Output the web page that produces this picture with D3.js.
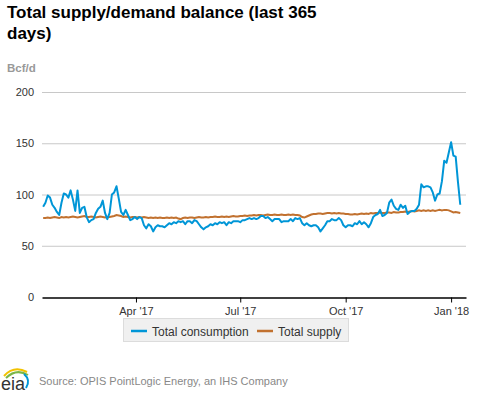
<!DOCTYPE html>
<html>
<head>
<meta charset="utf-8">
<script src="https://cdnjs.cloudflare.com/ajax/libs/d3/7.8.5/d3.min.js"></script>
<style>
  body { margin: 0; background: #fff; }
  text { font-family: "Liberation Sans", Arial, sans-serif; }
</style>
</head>
<body>
<script>
// data: one reading every 2 days, starting Jan 10 2017
var startDate = new Date(2017, 0, 10);
var stepDays = 2;

var consumption = [
  88, 92, 99, 97, 90, 87, 83, 80, 92, 101,
  100, 97, 104, 95, 84, 104, 82, 87, 88, 78,
  73, 75, 76, 82, 86, 88, 94, 82, 76, 82,
  100, 102, 108, 96, 83, 80, 85, 80, 75, 76,
  78, 76, 78, 77, 70, 67, 71, 69, 64, 68,
  70, 69, 69, 68, 70, 72, 71, 73, 72, 74,
  73, 74, 71, 74, 74, 72, 75, 74, 71, 68,
  66, 68, 69, 71, 70, 72, 71, 73, 72, 73,
  70, 73, 72, 74, 74, 74, 73, 75, 75, 76,
  77, 76, 77, 76, 77, 79, 79, 77, 78, 76,
  74, 76, 76, 76, 73, 74, 74, 74, 76, 74,
  77, 76, 77, 72, 70, 72, 70, 69, 70, 70,
  68, 64, 67, 70, 74, 74, 76, 75, 75, 77,
  75, 70, 68, 70, 70, 69, 72, 71, 74, 71,
  73, 71, 68, 72, 78, 80, 81, 85, 79, 80,
  82, 92, 95, 89, 86, 85, 90, 87, 89, 81,
  83, 84, 84, 86, 90, 110, 107, 108, 108, 107,
  102, 94, 100, 101, 113, 133, 131, 141, 151, 138,
  137, 112, 90
];

var supply = [
  77, 77, 77.5, 77, 77.5, 78, 77.5, 77, 78, 77.5, 78,
  77.5, 78, 78.5, 78, 77.5, 78, 78.5, 79, 78, 78,
  78.5, 78, 77.5, 78, 78.5, 78, 77.5, 78, 78, 78.5,
  79, 80, 79.5, 79, 78, 78.5, 78, 77.5, 78, 78,
  77.5, 78, 77.5, 78, 77.5, 77, 77.5, 77, 77.5, 77,
  77.5, 77, 77, 77.5, 77, 77.5, 77, 77.5, 76.5, 76,
  77, 77.5, 77, 77.5, 77.5, 77, 77.5, 78, 77.5, 77.5,
  78, 77.5, 78, 78, 78.5, 78, 78, 78.5, 78, 78.5,
  78, 78.5, 79, 78.5, 78.5, 79, 79, 79.5, 79, 79.5,
  79.5, 80, 79.5, 80, 80, 79.5, 80, 80.5, 80, 80,
  80.5, 80, 80, 80.5, 80, 80, 80.5, 80, 80.5, 80,
  80, 79.5, 78, 77.5, 78.5, 79.5, 80.5, 81, 81, 81.5,
  81.5, 81, 81.5, 82, 82, 81.5, 82, 81.5, 82, 81.5,
  81.5, 81, 81, 80.5, 80.5, 81, 80.5, 81, 81.5, 81,
  81.5, 81, 82, 81.5, 82, 82, 82.5, 82, 82, 82.5,
  82.5, 82, 83, 82.5, 82.5, 83, 83, 83.5, 83, 83.5,
  84, 83.5, 84, 84.5, 84, 84.5, 84, 84.5, 84, 84.5,
  84, 84.5, 85, 84.5, 85, 85, 84.5, 83.5, 82.5, 83,
  82.5, 82
];

var yTicks = [0, 50, 100, 150, 200];
var xTicks = [new Date(2017, 3, 1), new Date(2017, 6, 1), new Date(2017, 9, 1), new Date(2018, 0, 1)];
var xTickLabels = ["Apr '17", "Jul '17", "Oct '17", "Jan '18"];
var seriesNames = ["Total consumption", "Total supply"];
var seriesColors = ["#0096d7", "#c1712f"];

var W = 477, H = 393;
var svg = d3.select("body").append("svg").attr("width", W).attr("height", H);

var x = d3.scaleTime()
  .domain([new Date(2017, 0, 9), new Date(2018, 0, 14)])
  .range([42, 466]);
var y = d3.scaleLinear().domain([0, 200]).range([297, 92]);

function dateAt(i) { return d3.timeDay.offset(startDate, i * stepDays); }

// title
var title = svg.append("text")
  .attr("x", 7).attr("y", 18)
  .attr("font-size", "17px").attr("font-weight", "bold").attr("fill", "#000");
title.append("tspan").attr("x", 7).attr("y", 18).text("Total supply/demand balance (last 365");
title.append("tspan").attr("x", 7).attr("y", 39).text("days)");

svg.append("text")
  .attr("x", 7).attr("y", 72)
  .attr("font-size", "11.5px").attr("font-weight", "bold").attr("fill", "#999")
  .text("Bcf/d");

// gridlines
svg.append("g").selectAll("line")
  .data(yTicks.slice(1))
  .enter().append("line")
    .attr("x1", 42).attr("x2", 466)
    .attr("y1", function(d){ return y(d) + 0.5; })
    .attr("y2", function(d){ return y(d) + 0.5; })
    .attr("stroke", "#c8c8c8").attr("stroke-width", 1);

// y labels
svg.append("g").selectAll("text")
  .data(yTicks)
  .enter().append("text")
    .attr("x", 34)
    .attr("y", function(d){ return y(d) + 4; })
    .attr("text-anchor", "end")
    .attr("font-size", "11px").attr("fill", "#333")
    .text(function(d){ return d; });

// x axis
var xAxis = d3.axisBottom(x)
  .tickValues(xTicks)
  .tickFormat(function(d, i){ return xTickLabels[i]; })
  .tickSize(5)
  .tickSizeOuter(0);

var gx = svg.append("g")
  .attr("transform", "translate(0," + (y(0) + 0.5) + ")")
  .call(xAxis);
gx.select(".domain").attr("stroke", "#000").attr("stroke-width", 1.3);
gx.selectAll(".tick line").attr("stroke", "#000");
gx.selectAll(".tick text")
  .attr("font-size", "11px").attr("fill", "#333")
  .attr("font-family", "Liberation Sans, Arial, sans-serif")
  .attr("dy", "0.9em");

// lines
var line = d3.line()
  .x(function(d, i){ return x(dateAt(i)); })
  .y(function(d){ return y(d); });

svg.append("path")
  .datum(supply)
  .attr("fill", "none")
  .attr("stroke", seriesColors[1])
  .attr("stroke-width", 2)
  .attr("d", line);

svg.append("path")
  .datum(consumption)
  .attr("fill", "none")
  .attr("stroke", seriesColors[0])
  .attr("stroke-width", 2)
  .attr("stroke-linejoin", "round")
  .attr("d", line);

// legend
var lg = svg.append("g");
lg.append("rect")
  .attr("x", 123.5).attr("y", 318.5).attr("width", 225).attr("height", 23)
  .attr("fill", "#f0f0f0").attr("stroke", "#dcdcdc");

var legendX = [131, 257];
lg.selectAll("line")
  .data(seriesNames)
  .enter().append("line")
    .attr("x1", function(d, i){ return legendX[i]; })
    .attr("x2", function(d, i){ return legendX[i] + 16; })
    .attr("y1", 331).attr("y2", 331)
    .attr("stroke", function(d, i){ return seriesColors[i]; })
    .attr("stroke-width", 2.5);

lg.selectAll("text")
  .data(seriesNames)
  .enter().append("text")
    .attr("x", function(d, i){ return legendX[i] + 21; })
    .attr("y", 335.5)
    .attr("font-size", "12px").attr("fill", "#333")
    .text(function(d){ return d; });

// source + logo
svg.append("text")
  .attr("x", 39).attr("y", 385)
  .attr("font-size", "11px").attr("fill", "#888")
  .text("Source: OPIS PointLogic Energy, an IHS Company");

var logo = svg.append("g");
logo.append("path").attr("d", "M4,376 Q14,365 27,372").attr("fill", "none").attr("stroke", "#f2c200").attr("stroke-width", 2);
logo.append("path").attr("d", "M6,378 Q16,368 28,375").attr("fill", "none").attr("stroke", "#7ab648").attr("stroke-width", 2);
logo.append("path").attr("d", "M24,374 Q31,380 26,388").attr("fill", "none").attr("stroke", "#0096d7").attr("stroke-width", 2);
logo.append("text")
  .attr("x", 1).attr("y", 390)
  .attr("font-family", "Liberation Serif, serif")
  .attr("font-size", "18px").attr("fill", "#333")
  .text("eia");
</script>
</body>
</html>
